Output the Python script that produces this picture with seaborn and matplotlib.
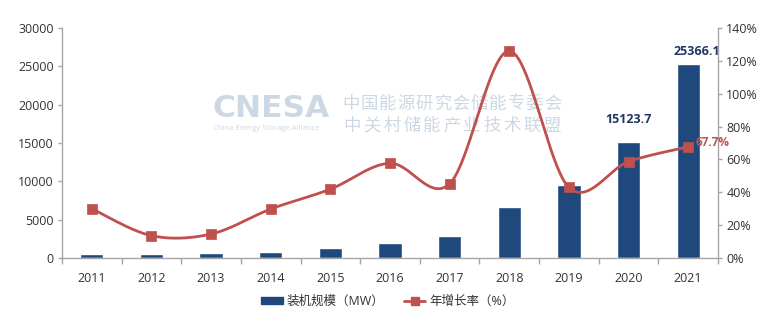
import numpy as np
import pandas as pd
import matplotlib
matplotlib.use("Agg")
import matplotlib.pyplot as plt
import seaborn as sns
from matplotlib.patches import Patch
from matplotlib.lines import Line2D

# ---- data ----
years = ["2011", "2012", "2013", "2014", "2015", "2016", "2017", "2018", "2019", "2020", "2021"]
capacity_mw = [470, 560, 650, 830, 1250, 1950, 2900, 6600, 9470, 15123.7, 25366.1]
growth_pct = [30.0, 13.6, 14.6, 29.8, 41.9, 57.7, 45.2, 126.0, 43.0, 58.7, 67.7]
left_ticks = [0, 5000, 10000, 15000, 20000, 25000, 30000]
right_ticks = [0, 20, 40, 60, 80, 100, 120, 140]
bar_label = "装机规模（MW）"
line_label = "年增长率（%）"

BAR = "#1F497D"
RED = "#C0504D"
SPINE = "#A6A6A6"
TXT = "#333333"

sns.set_theme(style="white")
plt.rcParams["font.family"] = ["Open Sans", "Noto Sans CJK SC", "DejaVu Sans"]

fig = plt.figure(figsize=(7.83, 3.22), dpi=100)
ax = fig.add_axes([62 / 783, 64 / 322, 656 / 783, 230 / 322])

df = pd.DataFrame({"year": years, "cap": capacity_mw, "g": growth_pct})
sns.barplot(data=df, x="year", y="cap", color=BAR, width=0.39, saturation=1,
            ax=ax, zorder=2)
ax.set_xlim(-0.5, len(years) - 0.5)
ax.set_ylim(0, 30000)
ax.set_yticks(left_ticks)
ax.set_yticklabels([str(t) for t in left_ticks])
ax.set_xlabel("")
ax.set_ylabel("")

ax2 = ax.twinx()
ax2.set_ylim(0, 140)
ax2.set_yticks(right_ticks)
ax2.set_yticklabels([f"{t}%" for t in right_ticks])

# smoothed line (Catmull-Rom / Excel-like) through the data points
xs = np.arange(len(years), dtype=float)
ys = np.array(growth_pct, dtype=float)
px = np.concatenate([[xs[0]], xs, [xs[-1]]])
py = np.concatenate([[ys[0]], ys, [ys[-1]]])
cx, cy = [], []
t = np.linspace(0, 1, 40)
for i in range(len(xs) - 1):
    p0 = np.array([xs[i], ys[i]])
    p3 = np.array([xs[i + 1], ys[i + 1]])
    p1 = p0 + (np.array([px[i + 2], py[i + 2]]) - np.array([px[i], py[i]])) / 6
    p2 = p3 - (np.array([px[i + 3], py[i + 3]]) - np.array([px[i + 1], py[i + 1]])) / 6
    b = ((1 - t) ** 3)[:, None] * p0 + (3 * (1 - t) ** 2 * t)[:, None] * p1 \
        + (3 * (1 - t) * t ** 2)[:, None] * p2 + (t ** 3)[:, None] * p3
    cx.extend(b[:, 0]); cy.extend(b[:, 1])
ax2.plot(cx, cy, color=RED, lw=2.0, zorder=3, solid_capstyle="round")
sns.scatterplot(x=xs, y=ys, marker="s", s=46, color=RED, edgecolor=RED,
                linewidth=0.5, ax=ax2, zorder=4, legend=False)

# spines / ticks
for a in (ax, ax2):
    a.spines["top"].set_visible(False)
    for s in ("left", "right", "bottom"):
        a.spines[s].set_color(SPINE)
        a.spines[s].set_linewidth(1.0)
    a.grid(False)
ax.spines["right"].set_visible(False)
ax2.spines["left"].set_visible(False)
ax2.spines["bottom"].set_visible(False)

ax.tick_params(axis="y", which="both", left=True, length=3, width=1, color=SPINE,
               labelsize=9, labelcolor=TXT, pad=3)
ax2.tick_params(axis="y", right=True, length=3, width=1, color=SPINE,
                labelsize=9, labelcolor=TXT, pad=3)
ax.set_xticks(np.arange(len(years)))
ax.set_xticklabels(years)
ax.set_xticks(np.arange(-0.5, len(years)), minor=True)
ax.tick_params(axis="x", which="major", length=0, labelsize=9, labelcolor=TXT, pad=10)
ax.tick_params(axis="x", which="minor", bottom=True, length=4, width=1, color=SPINE)

# value labels
ax.annotate(f"{capacity_mw[9]}", (9, capacity_mw[9]), xytext=(0, 16), textcoords="offset points",
            ha="center", va="center", fontsize=9, fontweight="bold", color="#1F3864")
ax.annotate(f"{capacity_mw[10]}", (10, capacity_mw[10]), xytext=(6.5, 9), textcoords="offset points",
            ha="center", va="center", fontsize=9, fontweight="bold", color="#1F3864",
            annotation_clip=False)
ax2.annotate(f"{growth_pct[10]}%", (10, growth_pct[10]), xytext=(5, 3), textcoords="offset points",
             ha="left", va="center", fontsize=8.5, fontweight="bold", color=RED,
             annotation_clip=False)

# watermark
WM = "#CCD8E4"
ax.text(212 / 783, (322 - 117) / 322, "CNESA", transform=fig.transFigure, fontsize=22.5,
        fontweight="bold", color=WM, ha="left", va="baseline", zorder=0.5,
        family=["DejaVu Sans"])
ax.text(213 / 783, (322 - 129) / 322, "China Energy Storage Alliance", transform=fig.transFigure,
        fontsize=5.6, color=WM, ha="left", va="center", zorder=0.5)
for row, (line, yc) in enumerate([("中国能源研究会储能专委会", 104), ("中关村储能产业技术联盟", 126)]):
    step = 220 / len(line)
    for k, ch in enumerate(line):
        ax.text((342 + step * (k + 0.5)) / 783, (322 - yc) / 322, ch, transform=fig.transFigure,
                fontsize=12.5, color=WM, ha="center", va="center", zorder=0.5,
                family=["Noto Sans CJK SC"])

# legend
handles = [Patch(facecolor=BAR, edgecolor=BAR, label=bar_label),
           Line2D([0], [0], color=RED, lw=2.0, marker="s", markersize=6, label=line_label)]
fig.legend(handles=handles, loc="center", bbox_to_anchor=(388 / 783, (322 - 301) / 322),
           ncol=2, frameon=False, fontsize=9, handlelength=1.7, handleheight=0.5,
           handletextpad=0.3, columnspacing=1.6, labelcolor=TXT)

fig.savefig("out.png", dpi=100)
